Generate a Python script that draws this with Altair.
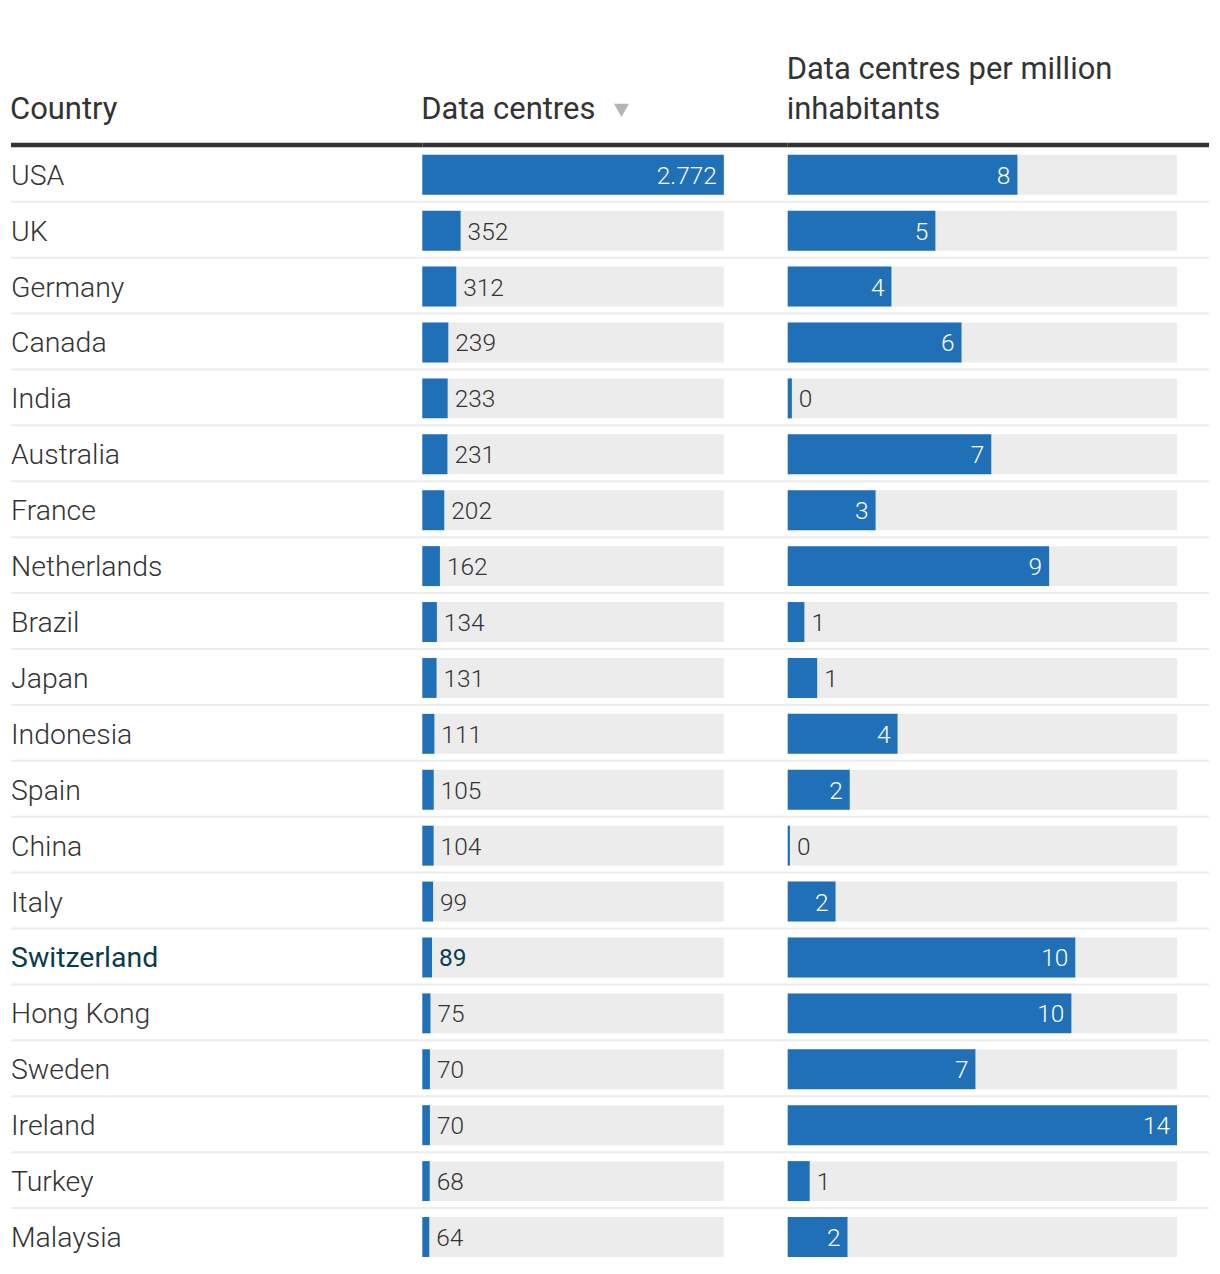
import altair as alt
import pandas as pd

# ---- data ----
countries = ["USA", "UK", "Germany", "Canada", "India", "Australia", "France",
             "Netherlands", "Brazil", "Japan", "Indonesia", "Spain", "China",
             "Italy", "Switzerland", "Hong Kong", "Sweden", "Ireland", "Turkey",
             "Malaysia"]
data_centres = [2772, 352, 312, 239, 233, 231, 202, 162, 134, 131, 111, 105,
                104, 99, 89, 75, 70, 70, 68, 64]
per_million = [8.26, 5.31, 3.73, 6.25, 0.15, 7.32, 3.16, 9.40, 0.60, 1.06,
               3.95, 2.23, 0.08, 1.72, 10.34, 10.20, 6.75, 14.0, 0.79, 2.15]
highlight = "Switzerland"
header_country = "Country"
header_dc = "Data centres"
header_pm = ["Data centres per million", "inhabitants"]

df = pd.DataFrame({"country": countries, "dc": data_centres, "pm": per_million})

FONT = "Roboto"
BLUE = "#2070b8"
TEAL = "#0a3c4e"
TXT = "#333333"
BG = "#ececec"
SEP = "#ececec"
ROW = 56
H = ROW * len(countries)
BAR_H = 40
MIN_INSIDE_PX = 40

base = alt.Chart(df)
first = base.transform_filter(alt.datum.country == countries[0])
rest = base.transform_filter(alt.datum.country != countries[0])
y = alt.Y("country:N", sort=countries, axis=None,
          scale=alt.Scale(paddingInner=0, paddingOuter=0))
y_edge = alt.Y("country:N", sort=countries, axis=None, bandPosition=0,
               scale=alt.Scale(paddingInner=0, paddingOuter=0))

head_rule = first.mark_rule(color=TXT, strokeWidth=4.5, yOffset=-1.7).encode(y=y_edge)
separators = rest.mark_rule(color=SEP, strokeWidth=2, yOffset=-1).encode(y=y_edge)


def header(text):
    n = len(text) if isinstance(text, list) else 1
    return first.mark_text(
        align="left", baseline="alphabetic", font=FONT, fontSize=31,
        fontWeight=400, color=TXT, lineHeight=40
    ).encode(x=alt.value(-1), y=alt.value(-28 - 40 * (n - 1)), text=alt.value(text))


# ---- panel 1: country names ----
names = base.transform_filter(alt.datum.country != highlight).mark_text(
    align="left", baseline="middle", font=FONT, fontSize=28.5, fontWeight=300,
    color=TXT, dy=1
).encode(y=y, x=alt.value(0), text="country:N")
names_hl = base.transform_filter(alt.datum.country == highlight).mark_text(
    align="left", baseline="middle", font=FONT, fontSize=28.5, fontWeight=400,
    color=TEAL, dy=1
).encode(y=y, x=alt.value(0), text="country:N")

p1 = alt.layer(separators, head_rule, names, names_hl,
               header(header_country)).properties(width=412, height=H)


def bar_panel(field, rng, width, label_expr, head, tri=False):
    vmax = max(df[field])
    xs = alt.Scale(domain=[0, vmax], range=[0, rng], nice=False, zero=True)
    frac = MIN_INSIDE_PX / rng
    b = base.transform_joinaggregate(vmax=f"max({field})").transform_calculate(
        frac=f"datum.{field} / datum.vmax", label=label_expr)
    bg = b.mark_bar(height=BAR_H, color=BG).encode(
        x=alt.X("vmax:Q", scale=xs, axis=None), y=y)
    bar = b.mark_bar(height=BAR_H, color=BLUE).encode(
        x=alt.X(f"{field}:Q", scale=xs, axis=None), y=y)
    txt_kw = dict(baseline="middle", font=FONT, fontSize=24.5, dy=2)
    inside = b.transform_filter(alt.datum.frac >= frac).mark_text(
        align="right", dx=-7, color="white", fontWeight=300, **txt_kw
    ).encode(x=alt.X(f"{field}:Q", scale=xs, axis=None), y=y, text="label:N")
    outside = b.transform_filter(
        (alt.datum.frac < frac) & (alt.datum.country != highlight)).mark_text(
        align="left", dx=7, color=TXT, fontWeight=300, **txt_kw
    ).encode(x=alt.X(f"{field}:Q", scale=xs, axis=None), y=y, text="label:N")
    outside_hl = b.transform_filter(
        (alt.datum.frac < frac) & (alt.datum.country == highlight)).mark_text(
        align="left", dx=7, color=TEAL, fontWeight=400, **txt_kw
    ).encode(x=alt.X(f"{field}:Q", scale=xs, axis=None), y=y, text="label:N")
    layers = [separators, head_rule, bg, bar, inside, outside, outside_hl, header(head)]
    if tri:
        triangle = first.mark_point(
            shape="M-1,-0.9L1,-0.9L0,0.9Z", filled=True, size=225,
            color="#b4b4b4", opacity=1, strokeWidth=0
        ).encode(x=alt.value(199.5), y=alt.value(-36.5))
        layers.append(triangle)
    return alt.layer(*layers).properties(width=width, height=H)


p2 = bar_panel("dc", 302, 366, "replace(format(datum.dc, ','), ',', '.')",
               header_dc, tri=True)
p3 = bar_panel("pm", 390, 422, "format(datum.pm, '.0f')", header_pm)

chart = alt.hconcat(p1, p2, p3, spacing=0, bounds="flush").properties(
    padding={"left": 0, "top": 45, "right": 0, "bottom": 0}
).configure_view(stroke=None).configure_concat(spacing=0)

chart.save("out.html", embed_options={"renderer": "svg", "actions": False})
